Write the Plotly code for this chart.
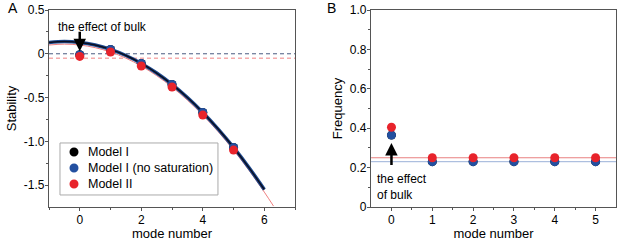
import plotly.graph_objects as go

# Panel A data
modes = [0, 1, 2, 3, 4, 5]
stab_model1 = [-0.01, 0.05, -0.11, -0.35, -0.67, -1.07]
stab_model1_nosat = [-0.01, 0.05, -0.11, -0.35, -0.67, -1.07]
stab_model2 = [-0.03, 0.02, -0.14, -0.38, -0.70, -1.10]

curve1_x = [-1, -0.5, 0, 0.5, 1, 1.5, 2, 2.5, 3, 3.5, 4, 4.5, 5, 5.5, 6]
curve1_y = [0.13, 0.14, 0.13, 0.10, 0.05, -0.02, -0.11, -0.22, -0.35, -0.50, -0.67, -0.86, -1.07, -1.30, -1.55]
curve2_x = [-1, -0.5, 0, 0.5, 1, 1.5, 2, 2.5, 3, 3.5, 4, 4.5, 5, 5.5, 6, 6.3]
curve2_y = [0.10, 0.11, 0.10, 0.07, 0.02, -0.05, -0.14, -0.25, -0.38, -0.53, -0.70, -0.89, -1.10, -1.33, -1.58, -1.74]

hline1_A = 0.0
hline2_A = -0.05

# Panel B data
freq_model1 = [0.365, 0.23, 0.23, 0.23, 0.23, 0.23]
freq_model1_nosat = [0.365, 0.23, 0.23, 0.23, 0.23, 0.23]
freq_model2 = [0.405, 0.25, 0.25, 0.25, 0.25, 0.25]
hline1_B = 0.23
hline2_B = 0.25

series_names = ["Model I", "Model I (no saturation)", "Model II"]

BLACK = "#000000"
BLUE = "#2350a0"
RED = "#e8232b"
colors = [BLACK, BLUE, RED]
FONT = "Liberation Sans, Arial, sans-serif"
MS = 9

fig = go.Figure()

# Panel A lines
fig.add_trace(go.Scatter(x=[-1, 7], y=[hline1_A, hline1_A], mode="lines",
                         line=dict(color="#4a5a80", width=1, dash="4px,3px"), showlegend=False, xaxis="x", yaxis="y"))
fig.add_trace(go.Scatter(x=[-1, 7], y=[hline2_A, hline2_A], mode="lines",
                         line=dict(color="#f08080", width=1, dash="4px,3px"), showlegend=False, xaxis="x", yaxis="y"))
fig.add_trace(go.Scatter(x=curve2_x, y=curve2_y, mode="lines", line=dict(color="#f08080", width=1, shape="spline"),
                         showlegend=False, xaxis="x", yaxis="y"))
fig.add_trace(go.Scatter(x=curve1_x, y=curve1_y, mode="lines", line=dict(color="#1f4a8f", width=3.5, shape="spline"),
                         showlegend=False, xaxis="x", yaxis="y"))
fig.add_trace(go.Scatter(x=curve1_x, y=curve1_y, mode="lines", line=dict(color="#0a0f20", width=1.5, shape="spline"),
                         showlegend=False, xaxis="x", yaxis="y"))

for name, vals, col in zip(series_names, [stab_model1, stab_model1_nosat, stab_model2], colors):
    fig.add_trace(go.Scatter(x=modes, y=vals, mode="markers", name=name, showlegend=False,
                             marker=dict(color=col, size=MS), xaxis="x", yaxis="y"))

# Panel B
fig.add_trace(go.Scatter(x=[-0.5, 5.5], y=[hline2_B, hline2_B], mode="lines",
                         line=dict(color="#e88080", width=1), showlegend=False, xaxis="x2", yaxis="y2"))
fig.add_trace(go.Scatter(x=[-0.5, 5.5], y=[hline1_B, hline1_B], mode="lines",
                         line=dict(color="#9ab0d8", width=1), showlegend=False, xaxis="x2", yaxis="y2"))
for name, vals, col in zip(series_names, [freq_model1, freq_model1_nosat, freq_model2], colors):
    fig.add_trace(go.Scatter(x=modes, y=vals, mode="markers", name=name, showlegend=False,
                             marker=dict(color=col, size=MS), xaxis="x2", yaxis="y2"))

axis_common = dict(showline=True, linecolor="#555555", linewidth=1.2, mirror=True, ticks="outside",
                   ticklen=3, tickcolor="#555555", showgrid=False, zeroline=False, ticklabelstandoff=-2,
                   tickfont=dict(size=12, color="black", family=FONT),
                   title_font=dict(size=13, color="black", family=FONT))
minor_common = dict(ticks="outside", ticklen=2, tickcolor="#555555")

fig.update_layout(
    width=617, height=245,
    margin=dict(l=49, r=1, t=10, b=38),
    paper_bgcolor="white", plot_bgcolor="white",
    font=dict(family=FONT, color="black"),
    showlegend=False,
    xaxis=dict(domain=[0, 0.434], range=[-1, 7], tickvals=[0, 2, 4, 6],
               minor=dict(tickvals=[-1, 1, 3, 5, 7], **minor_common),
               title=dict(text="mode number", standoff=2), **axis_common),
    yaxis=dict(domain=[0, 1], range=[-1.75, 0.5], tickvals=[-1.5, -1.0, -0.5, 0, 0.5],
               ticktext=["-1.5", "-1.0", "-0.5", "0", "0.5"],
               minor=dict(tickvals=[-1.25, -0.75, -0.25, 0.25], **minor_common),
               title=dict(text="Stability", standoff=4), **axis_common),
    xaxis2=dict(domain=[0.568, 1], range=[-0.5, 5.5], tickvals=[0, 1, 2, 3, 4, 5], anchor="y2",
                minor=dict(tickvals=[0.5, 1.5, 2.5, 3.5, 4.5], **minor_common),
                title=dict(text="mode number", standoff=2), **axis_common),
    yaxis2=dict(domain=[0, 1], range=[0, 1], tickvals=[0, 0.2, 0.4, 0.6, 0.8, 1.0],
                ticktext=["0", "0.2", "0.4", "0.6", "0.8", "1.0"], anchor="x2",
                minor=dict(tickvals=[0.1, 0.3, 0.5, 0.7, 0.9], **minor_common),
                title=dict(text="Frequency", standoff=4), **axis_common),
)

# Legend box (panel A), drawn in paper coordinates
fig.add_shape(type="rect", xref="paper", yref="paper", x0=0.0194, x1=0.298, y0=0.061, y1=0.325,
              fillcolor="white", line=dict(color="#aaaaaa", width=1), layer="above")
legend_rows = [0.279, 0.198, 0.117]
for name, col, yy in zip(series_names, colors, legend_rows):
    fig.add_shape(type="circle", xref="paper", yref="paper", xsizemode="pixel", ysizemode="pixel",
                  xanchor=0.0441, yanchor=yy, x0=-4.5, x1=4.5, y0=-4.5, y1=4.5,
                  fillcolor=col, line=dict(color=col, width=0), layer="above")
    fig.add_annotation(x=0.0653, y=yy, xref="paper", yref="paper", text=name, showarrow=False,
                       xanchor="left", yanchor="middle", font=dict(size=12.5, family=FONT, color="black"))

fig.add_annotation(x=0.74, y=0.31, xref="x", yref="y", text="the effect of bulk", showarrow=False,
                   font=dict(size=12, family=FONT, color="black"))
fig.add_annotation(x=0, y=0.03, ax=0, ay=0.27, xref="x", yref="y", axref="x", ayref="y",
                   showarrow=True, arrowhead=2, arrowsize=1, arrowwidth=2.5, arrowcolor="black", text="")

fig.add_annotation(x=0, y=0.325, ax=0, ay=0.205, xref="x2", yref="y2", axref="x2", ayref="y2",
                   showarrow=True, arrowhead=2, arrowsize=1, arrowwidth=2.5, arrowcolor="black", text="")
fig.add_annotation(x=-0.41, y=0.10, xref="x2", yref="y2", xanchor="left", align="left",
                   text="the effect<br>of bulk", showarrow=False,
                   font=dict(size=12, family=FONT, color="black"))

fig.add_annotation(x=-0.075, y=1.06, xref="paper", yref="paper", text="A", showarrow=False,
                   xanchor="left", yanchor="top", font=dict(size=14, family=FONT, color="black"))
fig.add_annotation(x=0.487, y=1.06, xref="paper", yref="paper", text="B", showarrow=False,
                   xanchor="left", yanchor="top", font=dict(size=14, family=FONT, color="black"))

fig.write_html("out.html", config={"displayModeBar": False},
               post_script="document.body.style.margin='0';")
